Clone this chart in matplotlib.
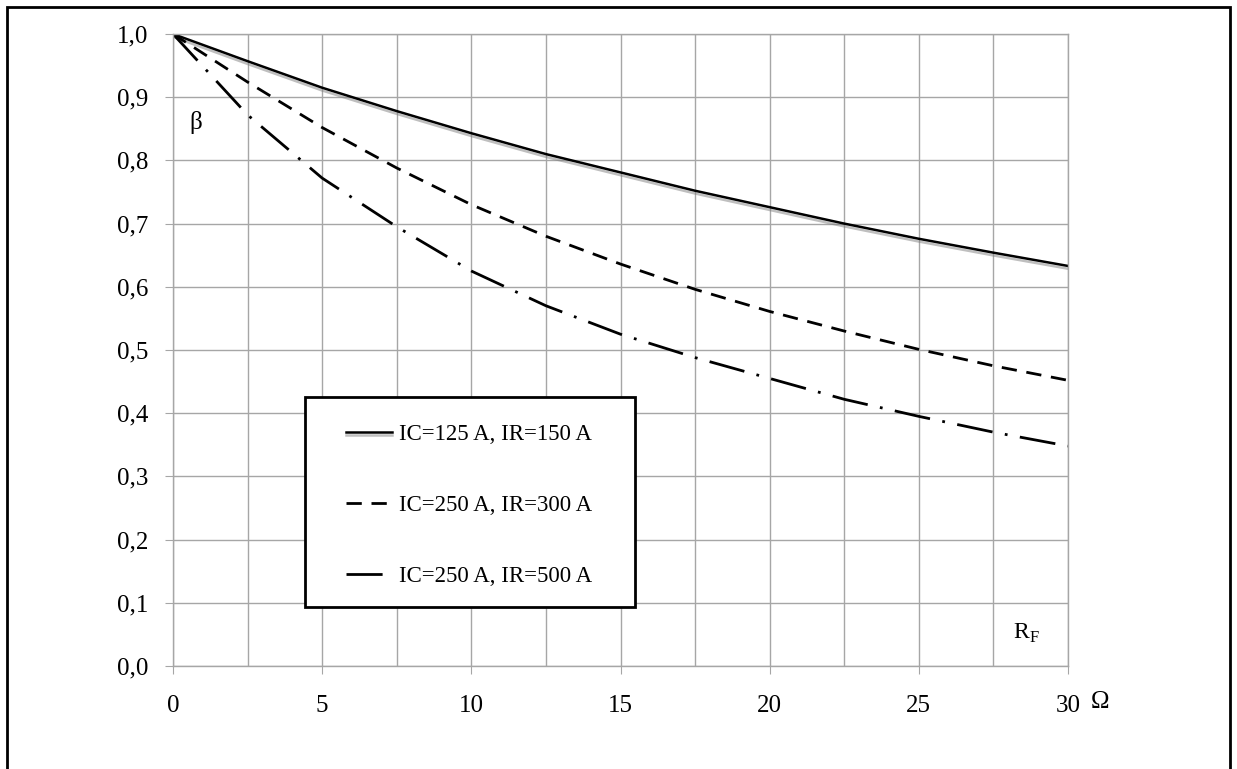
import matplotlib.pyplot as plt
import matplotlib.patheffects as pe
from matplotlib.patches import Rectangle
from matplotlib.ticker import MultipleLocator

plt.rcParams['font.family'] = ['Liberation Serif', 'DejaVu Serif']

# resistance R_F (ohm)
rf = [0, 2.5, 5, 7.5, 10, 12.5, 15, 17.5, 20, 22.5, 25, 27.5, 30]
# beta for each case
beta_125_150 = [1.0, 0.957, 0.915, 0.878, 0.843, 0.810, 0.781, 0.752, 0.726, 0.700, 0.676, 0.654, 0.633]
beta_250_300 = [1.0, 0.924, 0.852, 0.788, 0.730, 0.680, 0.636, 0.596, 0.561, 0.530, 0.501, 0.475, 0.452]
beta_250_500 = [1.0, 0.872, 0.772, 0.695, 0.625, 0.570, 0.525, 0.488, 0.455, 0.422, 0.395, 0.370, 0.348]
labels = ["IC=125 A, IR=150 A", "IC=250 A, IR=300 A", "IC=250 A, IR=500 A"]
xticks = [0, 5, 10, 15, 20, 25, 30]
yticks = [0.0, 0.1, 0.2, 0.3, 0.4, 0.5, 0.6, 0.7, 0.8, 0.9, 1.0]

W, H = 1237, 769
fig = plt.figure(figsize=(W / 100, H / 100), dpi=100)
ax = fig.add_axes([173 / W, 1 - 666 / H, (1068 - 173) / W, (666 - 34) / H])

ax.plot(rf, beta_125_150, color='black', lw=1.8, label=labels[0],
        path_effects=[pe.SimpleLineShadow(offset=(0, -2), shadow_color='gray', alpha=0.5), pe.Normal()])
ax.plot(rf, beta_250_300, color='black', lw=2, linestyle=(0, (5.5, 3.5)), label=labels[1])
ax.plot(rf, beta_250_500, color='black', lw=2, linestyle=(0, (13, 4.5, 1, 4.5)), label=labels[2])

ax.set_xlim(0, 30)
ax.set_ylim(0, 1.0)
ax.set_xticks(xticks)
ax.set_xticklabels([str(v) for v in xticks])
ax.set_yticks(yticks)
ax.set_yticklabels([f"{v:.1f}".replace('.', ',') for v in yticks])
ax.xaxis.set_minor_locator(MultipleLocator(2.5))
ax.grid(True, which='both', color='#a6a6a6', lw=1)
ax.set_axisbelow(True)
ax.tick_params(which='major', direction='out', color='#a6a6a6', labelsize=18, length=6)
ax.tick_params(axis='x', pad=15)
ax.tick_params(axis='y', pad=12)
ax.tick_params(which='minor', length=0)
for s in ax.spines.values():
    s.set_color('#a6a6a6')
    s.set_linewidth(1)

ax.annotate("Ω", xy=(30, 0), xytext=(23, -26), textcoords='offset points',
            fontsize=18, ha='center', va='center', annotation_clip=False)
ax.text(0.77, 0.86, "β", fontsize=18, ha='center', va='center')
ax.text(28.6, 0.052, "R$_\\mathregular{F}$", fontsize=17, ha='center', va='center')

# legend box drawn as its own frame, entries placed inside it
box = Rectangle((305 / W, 1 - 607 / H), 330 / W, 210 / H, transform=fig.transFigure,
                facecolor='white', edgecolor='black', lw=2, zorder=4)
ax.add_patch(box)
leg = ax.legend(loc='upper left', bbox_to_anchor=(346 / W, 1 - 424 / H),
                bbox_transform=fig.transFigure, borderaxespad=0, fontsize=16.5,
                frameon=False, handlelength=2.0, handletextpad=0.3,
                borderpad=0, labelspacing=2.17)
leg.set_zorder(5)

fig.patches.append(Rectangle((7 / W, -0.05), (1230 - 7) / W, 1.05 - 7 / H,
                             transform=fig.transFigure, fill=False,
                             edgecolor='black', lw=2))

fig.savefig("out.png", dpi=100)
